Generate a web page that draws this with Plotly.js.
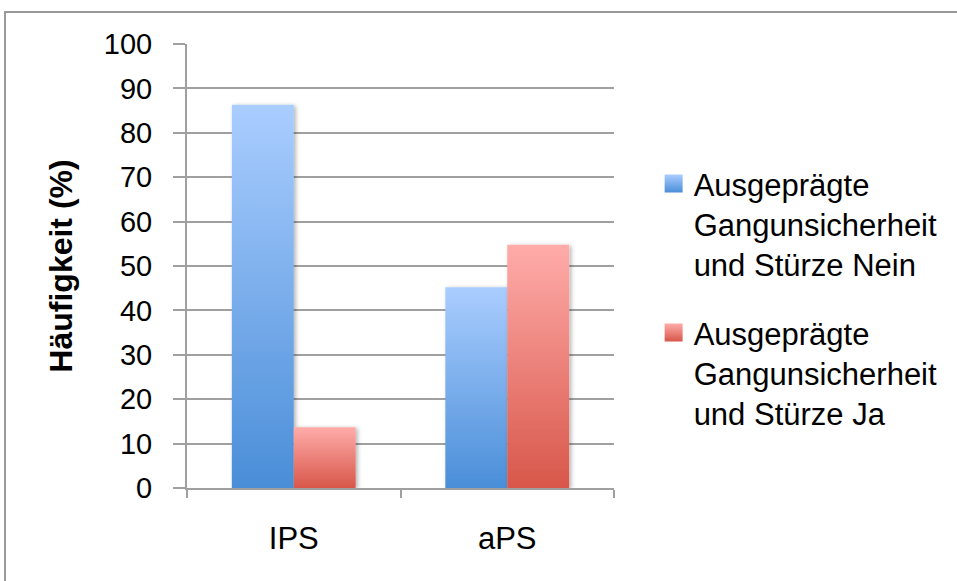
<!DOCTYPE html>
<html>
<head>
<meta charset="utf-8">
<script src="https://cdn.plot.ly/plotly-3.0.1.min.js"></script>
<style>
  html, body { margin: 0; padding: 0; background: #fff; overflow: hidden; }
  #wrap { position: relative; width: 957px; height: 581px; overflow: hidden; }
  #chart { width: 957px; height: 581px; }
  #frame { position: absolute; left: 4px; top: 11px; right: 0; bottom: 0;
           border-top: 2px solid #999; border-left: 2px solid #999;
           pointer-events: none; }
</style>
</head>
<body>
<div id="wrap">
  <div id="chart"></div>
  <div id="frame"></div>
</div>
<script>
const categories = ["IPS", "aPS"];
const seriesNames = [
  "Ausgeprägte<br>Gangunsicherheit<br>und Stürze Nein",
  "Ausgeprägte<br>Gangunsicherheit<br>und Stürze Ja"
];
const valuesNein = [86.3, 45.2];
const valuesJa = [13.7, 54.8];
const yTicks = [0, 10, 20, 30, 40, 50, 60, 70, 80, 90, 100];

const font = "Liberation Sans, Arial, sans-serif";

const traces = [
  { type: "bar", x: categories, y: valuesNein, name: seriesNames[0], legendgroup: "g1",
    marker: { color: "#7AAEEB" }, hoverinfo: "none" },
  { type: "bar", x: categories, y: valuesJa, name: seriesNames[1], legendgroup: "g2",
    marker: { color: "#EC7C74" }, hoverinfo: "none" }
];

const layout = {
  width: 957, height: 581,
  margin: { l: 187, r: 343, t: 44, b: 93, pad: 0 },
  paper_bgcolor: "#ffffff", plot_bgcolor: "#ffffff",
  barmode: "group", bargap: 0.42, bargroupgap: 0,
  showlegend: true,
  font: { family: font, color: "#000" },
  xaxis: {
    type: "category",
    showline: true, linecolor: "#A0A0A0", linewidth: 2,
    ticks: "outside", tickson: "boundaries", ticklen: 8, tickwidth: 2, tickcolor: "#A0A0A0",
    tickfont: { family: font, size: 31, color: "#000" },
    ticklabelstandoff: 22,
    showgrid: false, zeroline: false
  },
  yaxis: {
    range: [0, 100], tickvals: yTicks, ticktext: yTicks.map(String),
    showline: true, linecolor: "#A0A0A0", linewidth: 2,
    ticks: "outside", ticklen: 12, tickwidth: 2, tickcolor: "#A0A0A0",
    tickfont: { family: font, size: 29, color: "#000" },
    ticklabelstandoff: 15,
    showgrid: true, gridcolor: "#A0A0A0", gridwidth: 2,
    zeroline: false,
    title: { text: "<b>Häufigkeit (%)</b>", font: { family: font, size: 32, color: "#000" }, standoff: 22 }
  },
  legend: {
    xref: "container", yref: "container",
    x: 0.683, y: 0.73, xanchor: "left", yanchor: "top",
    font: { family: font, size: 31, color: "#000" },
    valign: "top", tracegroupgap: 25, traceorder: "grouped",
    bgcolor: "rgba(0,0,0,0)", borderwidth: 0, itemwidth: 30
  }
};

Plotly.newPlot("chart", traces, layout, { staticPlot: true, displayModeBar: false }).then(function (gd) {
  const svg = gd.querySelector(".main-svg");
  const ns = "http://www.w3.org/2000/svg";
  const defs = document.createElementNS(ns, "defs");
  function grad(id, top, bottom) {
    const g = document.createElementNS(ns, "linearGradient");
    g.setAttribute("id", id);
    g.setAttribute("x1", "0"); g.setAttribute("y1", "0");
    g.setAttribute("x2", "0"); g.setAttribute("y2", "1");
    [[0, top], [1, bottom]].forEach(function (s) {
      const st = document.createElementNS(ns, "stop");
      st.setAttribute("offset", s[0]);
      st.setAttribute("stop-color", s[1]);
      g.appendChild(st);
    });
    defs.appendChild(g);
  }
  grad("gBlue", "#AACDFF", "#4A8ED8");
  grad("gRed", "#FFACAA", "#D8574A");
  const f = document.createElementNS(ns, "filter");
  f.setAttribute("id", "shadow");
  f.setAttribute("x", "-20%"); f.setAttribute("y", "-20%");
  f.setAttribute("width", "150%"); f.setAttribute("height", "150%");
  const ds = document.createElementNS(ns, "feDropShadow");
  ds.setAttribute("dx", "2"); ds.setAttribute("dy", "1");
  ds.setAttribute("stdDeviation", "2"); ds.setAttribute("flood-opacity", "0.3");
  f.appendChild(ds);
  defs.appendChild(f);
  svg.insertBefore(defs, svg.firstChild);

  const ids = ["gBlue", "gRed"];
  gd.querySelectorAll(".barlayer .trace").forEach(function (t, i) {
    t.querySelectorAll("path").forEach(function (p) {
      p.style.fill = "url(#" + ids[i] + ")";
      p.setAttribute("filter", "url(#shadow)");
    });
  });
  gd.querySelectorAll(".legend .traces").forEach(function (t, i) {
    t.querySelectorAll(".legendpoints path").forEach(function (p) {
      p.setAttribute("d", "M9,9H-9V-9H9Z");
      p.style.fill = "url(#" + ids[i] + ")";
      p.style.stroke = "none";
    });
  });
});
</script>
</body>
</html>
